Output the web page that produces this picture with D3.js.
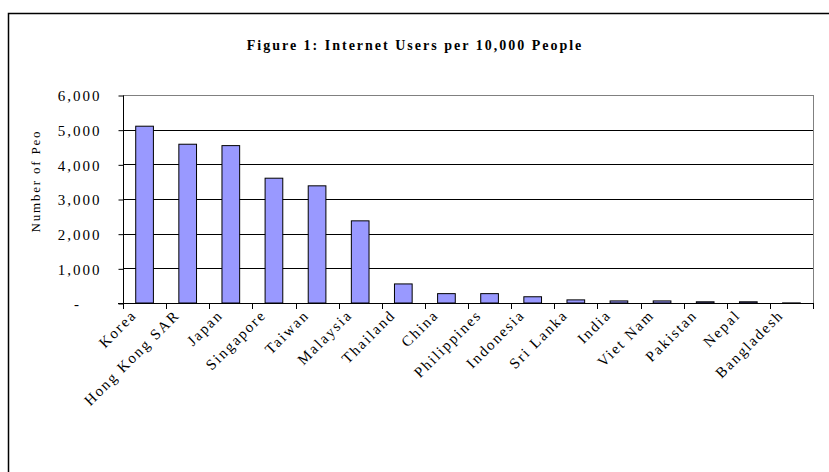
<!DOCTYPE html>
<html>
<head>
<meta charset="utf-8">
<script src="https://cdn.jsdelivr.net/npm/d3@7"></script>
<style>
  body { margin: 0; background: #fff; }
  svg { display: block; font-family: "Liberation Serif", "Times New Roman", serif; }
</style>
</head>
<body>
<div id="chart"></div>
<script>
const countries = ["Korea", "Hong Kong SAR", "Japan", "Singapore", "Taiwan", "Malaysia",
  "Thailand", "China", "Philippines", "Indonesia", "Sri Lanka", "India", "Viet Nam",
  "Pakistan", "Nepal", "Bangladesh"];
const users = [5100, 4580, 4540, 3600, 3380, 2370, 550, 270, 270, 180, 90, 60, 60, 35, 35, 3];
const yTicks = [0, 1000, 2000, 3000, 4000, 5000, 6000];

const width = 829, height = 472;
const margin = {top: 95, right: 16, bottom: 169, left: 123};

const svg = d3.select("#chart")
  .append("svg")
  .attr("width", width)
  .attr("height", height);

// outer chart frame (runs off the right and bottom of the picture)
svg.append("rect")
  .attr("x", 8.5).attr("y", 13.5)
  .attr("width", 900).attr("height", 600)
  .style("fill", "none")
  .style("stroke", "#000")
  .style("stroke-width", 1.5);

const x = d3.scaleBand()
  .domain(countries)
  .range([margin.left, width - margin.right])
  .paddingInner(0.59)
  .paddingOuter(0.295);

const y = d3.scaleLinear()
  .domain([0, 6000])
  .range([height - margin.bottom, margin.top]);

const fmt = d => d === 0 ? "-" : d3.format(",")(d);

// gridlines
svg.append("g")
  .selectAll("line")
  .data(yTicks.slice(1, -1))
  .enter().append("line")
  .attr("x1", margin.left).attr("x2", width - margin.right)
  .attr("y1", d => Math.round(y(d)) + 0.5)
  .attr("y2", d => Math.round(y(d)) + 0.5)
  .style("stroke", "#000");

// plot area border
svg.append("rect")
  .attr("x", margin.left + 0.5).attr("y", margin.top + 0.5)
  .attr("width", width - margin.right - margin.left)
  .attr("height", y(0) - margin.top)
  .style("fill", "none")
  .style("stroke", "#808080");

// bars
svg.append("g")
  .selectAll("rect")
  .data(users)
  .enter().append("rect")
  .attr("x", (d, i) => x(countries[i]))
  .attr("y", d => y(d))
  .attr("width", x.bandwidth())
  .attr("height", d => y(0) - y(d))
  .style("fill", "#9999ff")
  .style("stroke", "#000")
  .style("stroke-width", 1);

// y axis
const yAxis = svg.append("g")
  .attr("transform", `translate(${margin.left + 0.5},0.5)`)
  .call(d3.axisLeft(y).tickValues(yTicks).tickFormat(fmt).tickSize(5).tickPadding(17));
yAxis.attr("font-family", null).attr("font-size", null);
yAxis.select(".domain").attr("d", `M0,${y(6000)}V${y(0)}`).style("stroke", "#000");
yAxis.selectAll("text")
  .style("font-size", "15px")
  .style("letter-spacing", "2px")
  .style("fill", "#000")
  .attr("dy", "0.35em");
yAxis.selectAll(".tick")
  .filter(d => d === 0)
  .select("text")
  .attr("x", -46)
  .attr("text-anchor", "middle");

// x axis with ticks at category boundaries
const bounds = d3.range(countries.length + 1).map(i => margin.left + i * (width - margin.right - margin.left) / countries.length);
svg.append("line")
  .attr("x1", margin.left - 5).attr("x2", width - margin.right)
  .attr("y1", y(0) + 0.5).attr("y2", y(0) + 0.5)
  .style("stroke", "#000");
svg.append("g")
  .selectAll("line")
  .data(bounds)
  .enter().append("line")
  .attr("x1", d => Math.round(d) + 0.5).attr("x2", d => Math.round(d) + 0.5)
  .attr("y1", y(0)).attr("y2", y(0) + 6)
  .style("stroke", "#000");

svg.append("g")
  .selectAll("text")
  .data(countries)
  .enter().append("text")
  .attr("transform", d => `translate(${x(d) + x.bandwidth() / 2 - 7},${y(0) + 13}) rotate(-45)`)
  .attr("text-anchor", "end")
  .style("font-size", "15px")
  .style("letter-spacing", "1.9px")
  .text(d => d);

// y axis title
svg.append("text")
  .attr("transform", `translate(40,181) rotate(-90)`)
  .attr("text-anchor", "middle")
  .style("font-size", "13px")
  .style("letter-spacing", "1.8px")
  .text("Number of Peo");

// title
svg.append("text")
  .attr("x", 415).attr("y", 50)
  .attr("text-anchor", "middle")
  .style("font-size", "14px")
  .style("font-weight", "bold")
  .style("letter-spacing", "2px")
  .text("Figure 1: Internet Users per 10,000 People");
</script>
</body>
</html>
